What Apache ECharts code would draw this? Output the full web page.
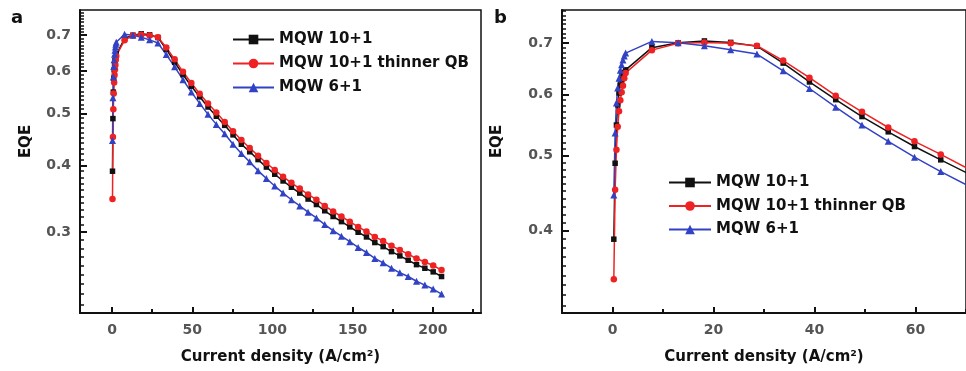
<!DOCTYPE html>
<html><head><meta charset="utf-8">
<script src="https://cdn.jsdelivr.net/npm/echarts@6/dist/echarts.min.js"></script>
<style>html,body{margin:0;padding:0;background:#fff}#c{width:966px;height:371px}</style>
</head><body><div id="c"></div>
<script>
// Current density (A/cm^2)
const currentDensity = [0.26, 0.52, 0.78, 1.03, 1.29, 1.55, 1.81, 2.07, 2.33, 2.6,
  7.8, 13.0, 18.2, 23.4, 28.6, 33.8, 39.0, 44.2, 49.4, 54.6, 59.8, 65.0, 70.2,
  75.4, 80.6, 85.8, 91.0, 96.2, 101.4, 106.6, 111.8, 117.0, 122.2, 127.4, 132.6,
  137.8, 143.0, 148.2, 153.4, 158.6, 163.8, 169.0, 174.2, 179.4, 184.6, 189.8,
  195.0, 200.2, 205.4];
// EQE, MQW 10+1
const eqeMQW10 = [0.390, 0.489, 0.548, 0.582, 0.603, 0.617, 0.627, 0.635, 0.641, 0.646,
  0.690, 0.700, 0.704, 0.701, 0.693, 0.659, 0.623, 0.591, 0.562, 0.537, 0.514, 0.494, 0.475,
  0.456, 0.438, 0.424, 0.410, 0.397, 0.385, 0.374, 0.364, 0.355, 0.346, 0.338, 0.329,
  0.321, 0.314, 0.307, 0.300, 0.294, 0.287, 0.282, 0.276, 0.271, 0.266, 0.261,
  0.257, 0.253, 0.248];
// EQE, MQW 10+1 thinner QB
const eqeMQW10Thin = [0.346, 0.452, 0.509, 0.545, 0.571, 0.590, 0.604, 0.616, 0.630, 0.640,
  0.685, 0.699, 0.701, 0.699, 0.694, 0.664, 0.631, 0.598, 0.570, 0.544, 0.522, 0.502, 0.482,
  0.463, 0.446, 0.431, 0.417, 0.404, 0.392, 0.381, 0.371, 0.362, 0.353, 0.345, 0.336,
  0.328, 0.321, 0.314, 0.307, 0.301, 0.294, 0.289, 0.283, 0.278, 0.273, 0.268,
  0.264, 0.260, 0.255];
// EQE, MQW 6+1
const eqeMQW6 = [0.445, 0.535, 0.585, 0.612, 0.630, 0.645, 0.656, 0.665, 0.673, 0.679,
  0.703, 0.700, 0.694, 0.686, 0.677, 0.644, 0.611, 0.578, 0.548, 0.522, 0.498, 0.477, 0.458,
  0.438, 0.421, 0.406, 0.391, 0.378, 0.366, 0.355, 0.345, 0.336, 0.327, 0.319, 0.310,
  0.302, 0.295, 0.288, 0.281, 0.275, 0.268, 0.263, 0.257, 0.252, 0.248, 0.243,
  0.239, 0.235, 0.230];

const seriesNames = ['MQW 10+1', 'MQW 10+1 thinner QB', 'MQW 6+1'];
const xTicksA = [0, 50, 100, 150, 200];
const xMinorA = [25, 75, 125, 175, 225];
const xTicksB = [0, 20, 40, 60];
const xMinorB = [10, 30, 50, 70];
const yTicksA = [0.3, 0.4, 0.5, 0.6, 0.7];
const yTicksB = [0.4, 0.5, 0.6, 0.7];
const yMinorA = [], yMinorB = [];
for (let k = 22; k <= 77; k++) { if (k % 10) { yMinorA.push(k / 100); if (k >= 32) yMinorB.push(k / 100); } }

const FONT = 'DejaVu Sans';
const AX = '#111';
const colors = ['#111111', '#ee2222', '#3142c4'];
const symbols = ['rect', 'circle', 'triangle'];
const sizes = [5.5, 6.5, 7];
const values = [eqeMQW10, eqeMQW10Thin, eqeMQW6];

function xMajor(g, min, max, ticks) {
  return {type: 'value', gridIndex: g, min, max, position: 'bottom',
    axisLine: {show: true, onZero: false, lineStyle: {color: AX, width: 2}},
    axisTick: {show: true, inside: true, length: 6, customValues: ticks, lineStyle: {color: AX, width: 2}},
    axisLabel: {customValues: ticks, margin: 10, color: '#555', fontFamily: FONT, fontWeight: 'bold', fontSize: 14},
    splitLine: {show: false},
    name: 'Current density (A/cm²)', nameLocation: 'middle', nameGap: 37,
    nameTextStyle: {fontFamily: FONT, fontWeight: 'bold', fontSize: 15, color: '#111'}};
}
function xMinor(g, min, max, ticks) {
  return {type: 'value', gridIndex: g, min, max, position: 'bottom',
    axisLine: {show: false, onZero: false},
    axisTick: {show: true, inside: true, length: 4, customValues: ticks, lineStyle: {color: AX, width: 2}},
    axisLabel: {show: false}, splitLine: {show: false}};
}
function yMajor(g, min, max, ticks, gap) {
  return {type: 'log', logBase: 10, gridIndex: g, min, max, position: 'left',
    axisLine: {show: true, onZero: false, lineStyle: {color: AX, width: 2}},
    axisTick: {show: true, inside: true, length: 7, customValues: ticks, lineStyle: {color: AX, width: 2}},
    axisLabel: {customValues: ticks, margin: 9, color: '#555', fontFamily: FONT, fontWeight: 'bold', fontSize: 14,
      formatter: v => Number(v).toFixed(1)},
    splitLine: {show: false}, minorTick: {show: false},
    name: 'EQE', nameLocation: 'middle', nameGap: gap,
    nameTextStyle: {fontFamily: FONT, fontWeight: 'bold', fontSize: 15, color: '#111', padding: [0, 0, 0, 40]}};
}
function yMinorAx(g, min, max, ticks) {
  return {type: 'log', logBase: 10, gridIndex: g, min, max, position: 'left',
    axisLine: {show: false, onZero: false},
    axisTick: {show: true, inside: true, length: 4, customValues: ticks, lineStyle: {color: AX, width: 1.5}},
    axisLabel: {show: false}, splitLine: {show: false}};
}

const series = [];
[0, 1].forEach(p => {
  seriesNames.forEach((name, i) => {
    series.push({type: 'line', name, xAxisIndex: p * 2, yAxisIndex: p * 2,
      data: currentDensity.map((x, k) => [x, values[i][k]]),
      symbol: symbols[i], symbolSize: sizes[i], showSymbol: true,
      itemStyle: {color: colors[i]}, lineStyle: {color: colors[i], width: 1.5},
      animation: false, clip: true});
  });
});

const legendText = {fontFamily: FONT, fontWeight: 'bold', fontSize: 15, color: '#111', lineHeight: 15};
const option = {
  backgroundColor: '#fff',
  animation: false,
  title: [
    {text: 'a', left: 6, top: 4, textStyle: {fontFamily: FONT, fontWeight: 'bold', fontSize: 18, color: '#111'}},
    {text: 'b', left: 489, top: 4, textStyle: {fontFamily: FONT, fontWeight: 'bold', fontSize: 18, color: '#111'}}
  ],
  legend: [
    {data: seriesNames, orient: 'vertical', left: 232, top: 32, padding: 0, itemWidth: 41, itemHeight: 12, itemGap: 9,
      textStyle: legendText, selectedMode: false},
    {data: seriesNames, orient: 'vertical', left: 668, top: 175, padding: 0, itemWidth: 42, itemHeight: 12, itemGap: 8.5,
      textStyle: legendText, selectedMode: false}
  ],
  grid: [
    {left: 80, top: 10, width: 401, height: 303, show: true, borderColor: AX, borderWidth: 1.5, backgroundColor: 'transparent'},
    {left: 562, top: 10, width: 407, height: 303, show: true, borderColor: AX, borderWidth: 1.5, backgroundColor: 'transparent'}
  ],
  xAxis: [xMajor(0, -20, 230, xTicksA), xMinor(0, -20, 230, xMinorA),
          xMajor(1, -10, 70, xTicksB), xMinor(1, -10, 70, xMinorB)],
  yAxis: [yMajor(0, 0.212, 0.78, yTicksA, 46), yMinorAx(0, 0.212, 0.78, yMinorA),
          yMajor(1, 0.313, 0.772, yTicksB, 57), yMinorAx(1, 0.313, 0.772, yMinorB)],
  series
};
const chart = echarts.init(document.getElementById('c'), null, {renderer: 'canvas'});
chart.setOption(option);
</script></body></html>
